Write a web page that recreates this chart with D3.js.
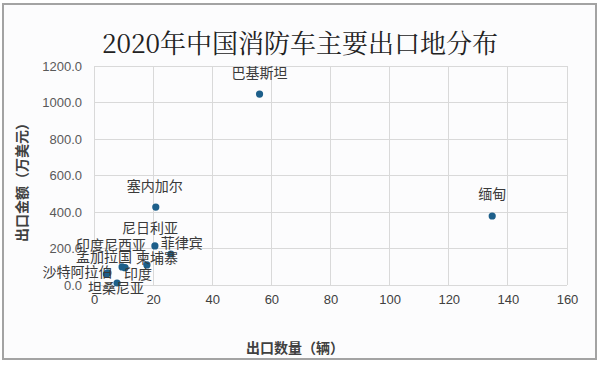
<!DOCTYPE html>
<html><head><meta charset="utf-8">
<script src="https://cdn.jsdelivr.net/npm/d3@7"></script>
<style>
html,body{margin:0;padding:0;background:#fff;}
svg{display:block;}
</style></head>
<body>
<svg id="c" width="600" height="366"></svg>
<script>
const countries = ["巴基斯坦","缅甸","塞内加尔","尼日利亚","菲律宾","柬埔寨","印度","印度尼西亚","孟加拉国","沙特阿拉伯","坦桑尼亚"];
const quantity  = [56.0, 134.7, 20.9, 20.6, 26.0, 17.9, 9.5, 10.5, 4.7, 4.2, 7.8];
const amount    = [1046, 378, 427, 214, 170, 110, 99, 95, 66, 60, 11];
const xTicks = [0,20,40,60,80,100,120,140,160];
const yTicks = [0,200,400,600,800,1000,1200];
const title = "2020年中国消防车主要出口地分布";
const xTitle = "出口数量（辆）";
const yTitle = "出口金额（万美元）";

// label placement offsets (layout only)
const labelOffset = {
  "巴基斯坦":[0,-22],"缅甸":[0,-23],"塞内加尔":[-1,-22],"尼日利亚":[-5,-19],
  "菲律宾":[11,-12],"柬埔寨":[10,-8],"印度":[16,6],"印度尼西亚":[-14,-24],
  "孟加拉国":[-4,-17],"沙特阿拉伯":[-29,-3],"坦桑尼亚":[-1,4]
};

const svg = d3.select("#c");
const font = "'Noto Sans CJK SC','Microsoft YaHei',sans-serif";

svg.append("rect").attr("x",3).attr("y",4).attr("width",593).attr("height",355)
  .attr("fill","#fcfcfd").attr("stroke","#a3a3a3").attr("stroke-width",2);

const x = d3.scaleLinear().domain([0,160]).range([94,567]);
const y = d3.scaleLinear().domain([0,1200]).range([285,66]);

// gridlines
svg.append("g").selectAll("line").data(yTicks).join("line")
  .attr("x1",x(0)).attr("x2",x(160)).attr("y1",d=>y(d)).attr("y2",d=>y(d))
  .attr("stroke","#d9d9d9").attr("stroke-width",1).attr("shape-rendering","crispEdges");
svg.append("g").selectAll("line").data(xTicks).join("line")
  .attr("y1",y(0)).attr("y2",y(1200)).attr("x1",d=>x(d)).attr("x2",d=>x(d))
  .attr("stroke","#d9d9d9").attr("stroke-width",1).attr("shape-rendering","crispEdges");

// axes
const xAxis = d3.axisBottom(x).tickValues(xTicks).tickSize(0).tickPadding(0).tickFormat(d3.format("d"));
const gx = svg.append("g").attr("transform",`translate(0,${y(0)})`).call(xAxis);
gx.select(".domain").remove();
gx.selectAll("text").attr("y",10).attr("dy","0.71em").attr("font-size",13).attr("fill","#404040").attr("font-family","Liberation Sans, Arial, sans-serif");

const yAxis = d3.axisLeft(y).tickValues(yTicks).tickSize(0).tickPadding(0).tickFormat(d3.format(".1f"));
const gy = svg.append("g").attr("transform",`translate(82,0)`).call(yAxis);
gy.select(".domain").remove();
gy.selectAll("text").attr("x",0).attr("font-size",13).attr("fill","#595959").attr("font-family","Liberation Sans, Arial, sans-serif");

// points
const data = countries.map((c,i)=>({c, q:quantity[i], a:amount[i]}));
svg.append("g").selectAll("circle").data(data).join("circle")
  .attr("cx",d=>x(d.q)).attr("cy",d=>y(d.a)).attr("r",3.6).attr("fill","#1d5f8a");

// labels
svg.append("g").selectAll("text").data(data).join("text")
  .attr("x",d=>x(d.q)+labelOffset[d.c][0]).attr("y",d=>y(d.a)+labelOffset[d.c][1])
  .attr("text-anchor","middle").attr("dominant-baseline","central")
  .attr("font-size",14).attr("fill","#3a3a3a").attr("font-family",font)
  .text(d=>d.c);

// titles
svg.append("text").attr("x",300).attr("y",41).attr("text-anchor","middle").attr("dominant-baseline","central")
  .attr("font-size",26).attr("fill","#222").attr("font-family","'Noto Serif CJK SC','Liberation Serif',"+font).text(title);
svg.append("text").attr("x",295).attr("y",347).attr("text-anchor","middle").attr("dominant-baseline","central")
  .attr("font-size",14).attr("font-weight","bold").attr("fill","#404040").attr("font-family",font).text(xTitle);
svg.append("text").attr("transform","translate(21,179) rotate(-90)").attr("text-anchor","middle").attr("dominant-baseline","central")
  .attr("font-size",14).attr("font-weight","bold").attr("fill","#404040").attr("font-family",font).text(yTitle);
</script>
</body></html>
